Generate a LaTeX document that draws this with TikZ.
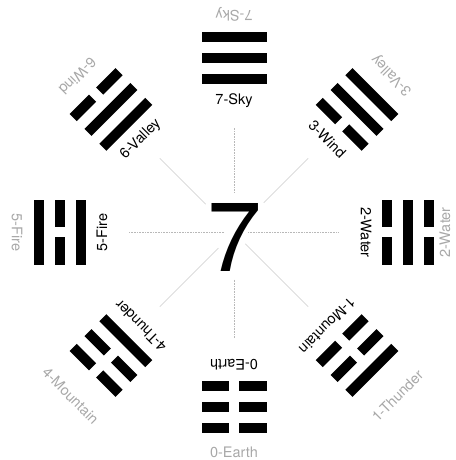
\documentclass[tikz,border=0pt]{standalone}
\usepackage{fontspec}
\setmainfont{TeX Gyre Heros}
\definecolor{lightlabel}{HTML}{A8A8A8}
\definecolor{rayline}{HTML}{B8B8B8}

% one line of a trigram: #1 distance from the centre, #2 = 1 solid, 0 broken
\newcommand{\trigbar}[2]{%
  \ifnum#2=1
    \fill (-32.5,#1-5) rectangle (32.5,#1+5);
  \else
    \fill (-32.5,#1-5) rectangle (-5,#1+5);
    \fill (5,#1-5) rectangle (32.5,#1+5);
  \fi}

\tikzset{
  innerlabel/.style={font=\fontsize{14.5}{16}\selectfont, text=black},
  outerlabel/.style={font=\fontsize{14.5}{16}\selectfont, text=lightlabel},
  ray/.style={rayline, line width=0.6pt, densely dotted},
  diagray/.style={rayline!75, line width=0.5pt},
}

\begin{document}
\begin{tikzpicture}[x=1pt,y=1pt]
\useasboundingbox (-234,-227.5) rectangle (221,232.5);

% trigrams, read from the centre outwards
\foreach \ang/\num/\inner/\outer/\ro/\ri/\a/\b/\c in {
    90/7/7-Sky/7-Sky/218/40/1/1/1,
    45/3/3-Wind/3-Valley/223/42/0/1/1,
    0/2/2-Water/2-Water/211/14/0/1/0,
    -45/1/1-Mountain/1-Thunder/231/16/0/0/1,
    -90/0/0-Earth/0-Earth/220/47/0/0/0,
    -135/4/4-Thunder/4-Mountain/231/22/1/0/0,
    180/5/5-Fire/5-Fire/217/10/1/0/1,
    135/6/6-Valley/6-Wind/221/40/1/1/0}
{
  \begin{scope}[rotate=\ang-90]
    \trigbar{153}{\a}
    \trigbar{174}{\b}
    \trigbar{195}{\c}
  \end{scope}
  \node[innerlabel, rotate=\ang-90] (in\num) at (\ang:132) {\inner};
  \node[outerlabel, rotate=\ang+90] (out\num) at (\ang:\ro) {\outer};
  \coordinate (beg\num) at (\ang:\ri);
  \coordinate (end\num) at (\ang:105);
}

\foreach \num in {7,2,0,5}
    \draw[ray] (beg\num) -- (end\num);
\foreach \num in {3,1,4,6}
    \draw[diagray] (beg\num) -- (end\num);

\node[font=\fontsize{98}{98}\selectfont] (seven) at (1,-4.5) {7};
\end{tikzpicture}
\end{document}
